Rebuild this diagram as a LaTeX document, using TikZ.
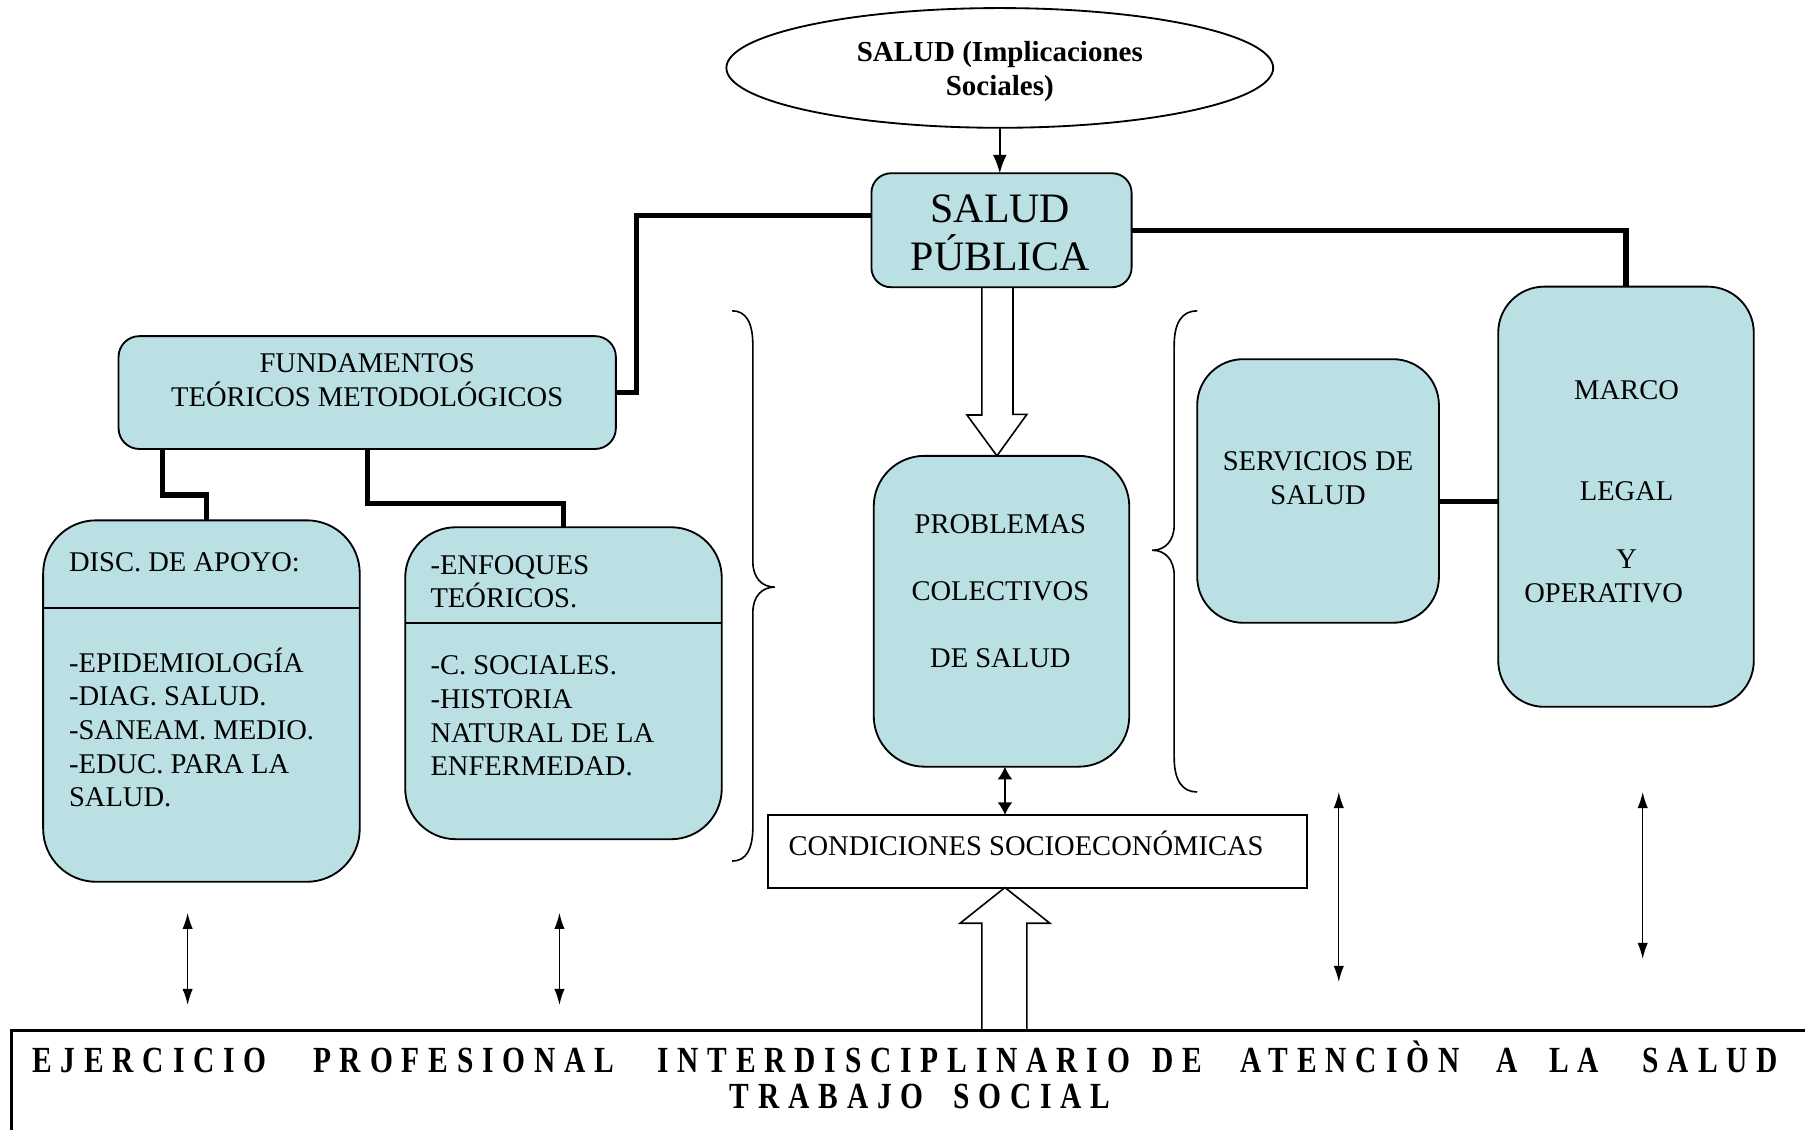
\documentclass[tikz,border=0pt]{standalone}
\usepackage{fontspec}
\setmainfont{Liberation Serif}
\newfontfamily\spacedfont{Liberation Serif Bold}[FakeStretch=0.8,LetterSpace=24]
\usetikzlibrary{shapes.geometric,arrows.meta,calc}
\definecolor{boxblue}{RGB}{186,224,228}
\begin{document}
\begin{tikzpicture}[x=0.5pt,y=-0.5pt,
  every node/.style={inner sep=0pt, outer sep=0pt},
  bluebox/.style={draw, line width=0.8pt, fill=boxblue, rectangle},
  txt/.style={font=\fontsize{12.4}{14.6}\selectfont, align=center},
  ltxt/.style={font=\fontsize{12.4}{14.6}\selectfont, align=left, anchor=west},
  btxt/.style={font=\spacedfont\fontsize{16}{18}\selectfont, anchor=base west},
  link/.style={line width=2.2pt, line join=miter},
  dbl/.style={line width=0.6pt, {Latex[length=7pt,width=4.5pt]}-{Latex[length=7pt,width=4.5pt]}},
  dblbold/.style={line width=0.8pt, {Latex[length=5.5pt,width=6.5pt]}-{Latex[length=5.5pt,width=6.5pt]}},
  hollowarrow/.style={draw, line width=0.7pt, line join=miter},
  brace/.style={line width=0.7pt},
  divider/.style={line width=0.8pt},
]
\useasboundingbox (0,0) rectangle (1568,982);

% ---- nodes ----
\node[draw, ellipse, line width=0.8pt, minimum width=237.5pt, minimum height=52pt] (salud) at (868.5,59) {};
\node[font=\bfseries\fontsize{12.6}{15}\selectfont, align=center] (tsalud) at (868.5,62) {SALUD (Implicaciones\\Sociales)};

\node[bluebox, rounded corners=8.5pt, minimum width=113pt, minimum height=49.5pt] (SP) at (870,200) {};
\node[font=\fontsize{18.2}{21}\selectfont, align=center] (tSP) at (869,202) {SALUD\\PÚBLICA};

\node[bluebox, rounded corners=9pt, minimum width=216pt, minimum height=49pt] (FUND) at (319,341) {};
\node[txt] (tFUND) at (319,330.5) {FUNDAMENTOS\\TEÓRICOS METODOLÓGICOS};

\node[bluebox, rounded corners=23pt, minimum width=137.5pt, minimum height=157pt] (DISC) at (175,609) {};
\coordinate (d1) at (0,528);
\draw[divider] (DISC.west |- d1) -- (DISC.east |- d1);
\node[ltxt] (tDISC1) at (60,488) {DISC. DE APOYO:};
\node[ltxt] (tDISC2) at (60,632) {-EPIDEMIOLOGÍA\\-DIAG. SALUD.\\-SANEAM. MEDIO.\\-EDUC. PARA LA\\SALUD.};

\node[bluebox, rounded corners=22pt, minimum width=137.5pt, minimum height=135.5pt] (ENF) at (489.5,593.5) {};
\coordinate (d2) at (0,541);
\draw[divider] (ENF.west |- d2) -- (ENF.east |- d2);
\node[ltxt] (tENF1) at (374,505.5) {-ENFOQUES\\TEÓRICOS.};
\node[ltxt] (tENF2) at (374,622) {-C. SOCIALES.\\-HISTORIA\\NATURAL DE LA\\ENFERMEDAD.};

\node[bluebox, rounded corners=22pt, minimum width=111pt, minimum height=135pt] (PROB) at (870,531) {};
\node[txt] (tPROB) at (869,513.5) {PROBLEMAS\\[14.6pt]COLECTIVOS\\[14.6pt]DE SALUD};

\node[draw, line width=0.9pt, fill=white, minimum width=234pt, minimum height=31.5pt] (COND) at (901,739.5) {};
\node[ltxt] (tCOND) at (685,733) {CONDICIONES SOCIOECONÓMICAS};

\node[bluebox, rounded corners=20pt, minimum width=105pt, minimum height=114.5pt] (SERV) at (1145,426.5) {};
\node[txt] (tSERV) at (1145,415.5) {SERVICIOS DE\\SALUD};

\node[bluebox, rounded corners=20pt, minimum width=111pt, minimum height=182.5pt] (MARCO) at (1412.5,431.5) {};
\node[txt] (tM1) at (1413,339) {MARCO};
\node[txt] (tM2) at (1413,427) {LEGAL};
\node[txt] (tM3) at (1413,486) {Y};
\node[txt] (tM4) at (1393,515) {OPERATIVO};

\node[anchor=north west, minimum width=779pt, minimum height=43.5pt] (ejer) at (10,895) {};
\draw[line width=1.1pt] (ejer.north east) -- (ejer.north west) -- (ejer.south west);
\node[btxt] (w1) at (28,932) {EJERCICIO};
\node[btxt] (w2) at (272,932) {PROFESIONAL};
\node[btxt] (w3) at (571,932) {INTERDISCIPLINARIO};
\node[btxt] (w4) at (1001,932) {DE};
\node[btxt] (w5) at (1078,932) {ATENCIÒN};
\node[btxt] (w6) at (1300,932) {A};
\node[btxt] (w7) at (1346,932) {LA};
\node[btxt] (w8) at (1427,932) {SALUD};
\node[btxt] (w9) at (634,963) {TRABAJO};
\node[btxt] (w10) at (828,963) {SOCIAL};

% ---- connectors ----
\draw[line width=0.7pt, -{Latex[length=8pt,width=6pt]}] (salud.south) -- (salud.south |- SP.north);

\coordinate (c1) at (553,187);
\draw[link] (SP.west |- c1) -- (c1) |- (FUND.east);
\coordinate (c2) at (1413,200);
\draw[link] (SP.east |- c2) -| (MARCO.north);

\coordinate (j1) at (141,430);
\coordinate (j2) at (179,430);
\draw[link] (FUND.south -| j1) -- (j1) -- (j2) -- (DISC.north -| j2);
\coordinate (j3) at (319,437);
\draw[link] (FUND.south) -- (FUND.south |- j3) -- (j3 -| ENF.north) -- (ENF.north);

\coordinate (j5) at (1275,436);
\draw[link] (SERV.east |- j5) -- (MARCO.west |- j5);

% hollow arrows
\coordinate (ha) at (866,0);
\draw[hollowarrow] ($(SP.south -| ha)+(-13,0)$) -- ++(0,111) -- ++(-13,0) -- (PROB.north -| ha) -- ++(26,-36) -- ++(-12,0) -- ($(SP.south -| ha)+(14,0)$);
\coordinate (hb) at (873,0);
\draw[hollowarrow] ($(ejer.north -| hb)+(-20,0)$) -- ++(0,-93) -- ++(-19,0) -- (COND.south -| hb) -- ++(39,31) -- ++(-20,0) -- ($(ejer.north -| hb)+(19,0)$);

% double arrows
\coordinate (pc) at (873,0);
\draw[dblbold] (PROB.south -| pc) -- (COND.north -| pc);
\coordinate (a1t) at (163,793); \coordinate (a1b) at (163,873);
\coordinate (a2t) at (486,793); \coordinate (a2b) at (486,873);
\coordinate (a3t) at (1163,688); \coordinate (a3b) at (1163,853);
\coordinate (a4t) at (1427,688); \coordinate (a4b) at (1427,833);
\draw[dbl] (a1t) -- (a1b);
\draw[dbl] (a2t) -- (a2b);
\draw[dbl] (a3t) -- (a3b);
\draw[dbl] (a4t) -- (a4b);

% braces
\draw[brace] (636,270) .. controls (648,270) and (654,280) .. (654,300) -- (654,488) .. controls (654,502) and (662,510) .. (673,510) .. controls (662,510) and (654,518) .. (654,532) -- (654,718) .. controls (654,738) and (648,748) .. (636,748);
\draw[brace] (1040,270) .. controls (1027,270) and (1020,280) .. (1020,300) -- (1020,456) .. controls (1020,470) and (1012,478) .. (1001,478) .. controls (1012,478) and (1020,486) .. (1020,500) -- (1020,658) .. controls (1020,678) and (1027,688) .. (1040,688);
\end{tikzpicture}
\end{document}
